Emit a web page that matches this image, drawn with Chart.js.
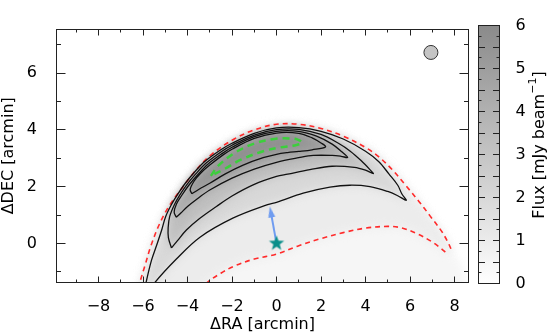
<!DOCTYPE html>
<html>
<head>
<meta charset="utf-8">
<script src="https://cdn.jsdelivr.net/npm/chart.js@4.4.1/dist/chart.umd.min.js"></script>
<style>
  body { margin: 0; background: #fff; }
  #wrap { position: relative; width: 552px; height: 335px; }
  canvas { position: absolute; left: 0; top: 0; }
</style>
</head>
<body>
<div id="wrap">
  <canvas id="map" width="552" height="335"></canvas>
  <canvas id="cbar" width="552" height="335"></canvas>
</div>
<script>
// Axis ranges (arcmin) and colour scale (mJy/beam)
const raMin = -9.888, raMax = 8.629;
const decMin = -1.378, decMax = 7.553;
const fluxMin = 0, fluxMax = 6;

const raTicks = [-8, -6, -4, -2, 0, 2, 4, 6, 8];
const raMinorTicks = [-9, -7, -5, -3, -1, 1, 3, 5, 7];
const decTicks = [0, 2, 4, 6];
const decMinorTicks = [-1, 1, 3, 5, 7];
const fluxTicks = [0, 1, 2, 3, 4, 5, 6];
const fluxHalfTicks = [0.5, 1, 1.5, 2, 2.5, 3, 3.5, 4, 4.5, 5, 5.5];
const fluxQuarterTicks = [0.25, 0.75, 1.25, 1.75, 2.25, 2.75, 3.25, 3.75, 4.25, 4.75, 5.25, 5.75];

// Colour bar end colours
const fluxColors = [[0, [255, 255, 255]], [6, [138, 138, 138]]];

// Red dashed curves (outer and inner edge)
const outerRed = [[-6.3,-1.9],[-6.15,-1.4],[-5.9,-0.75],[-5.65,-0.1],[-5.25,0.7],[-4.8,1.35],[-4.2,2.0],[-3.6,2.6],
  [-2.9,3.15],[-1.9,3.68],[-1.0,4.0],[0,4.2],[1,4.2],[2,4.05],[3,3.78],[4,3.38],[4.6,3.05],[5.2,2.6],
  [5.8,2.05],[6.4,1.48],[6.9,0.97],[7.4,0.45],[7.7,0.05],[7.9,-0.3]];
const innerRed = [[-3.7,-1.9],[-3.15,-1.4],[-2.5,-1.05],[-1.9,-0.8],[-1,-0.55],[0,-0.38],[1,-0.08],[2,0.17],[3,0.38],
  [4,0.54],[5,0.6],[5.6,0.55],[6.3,0.35],[7,0.05],[7.4,-0.18],[7.65,-0.35]];
const haloTail = [[8.35,-0.8],[8.4,-2.2],[-6.4,-2.2]];

// Black flux contours, lowest level first
const contour1 = [[-6.0,-1.9],[-5.87,-1.4],[-5.62,-0.6],[-5.38,-0.05],[-5.15,0.5],[-4.98,0.95],[-4.7,1.4],[-4.45,1.72],
  [-4.1,2.12],[-3.7,2.5],[-3.2,2.9],[-2.5,3.3],[-2,3.53],[-1,3.88],[0,4.07],[1,4.08],[2,3.95],[3,3.68],
  [4,3.25],[4.6,2.88],[5.05,2.45],[5.45,2.05],[5.63,1.75],[5.83,1.52],[5.45,1.68],[5.0,1.83],[4.2,2.0],
  [3.3,2.05],[2.4,1.98],[1.2,1.77],[0,1.45],[-0.4,1.37],[-1.94,0.9],[-3.44,0.22],[-4.5,-0.55],[-5.49,-1.4],[-5.9,-1.9]];
const contour2 = [[-4.72,-0.16],[-4.86,0.2],[-4.87,0.55],[-4.8,0.95],[-4.58,1.38],[-4.35,1.7],[-4.02,2.08],[-3.63,2.45],
  [-3.15,2.84],[-2.45,3.25],[-2,3.46],[-1,3.82],[0,4.01],[1,4.02],[2,3.84],[2.8,3.52],[3.3,3.26],[3.8,2.92],
  [4.2,2.6],[4.35,2.46],[4.0,2.58],[3.5,2.68],[2.5,2.72],[1.5,2.6],[0.5,2.44],[0,2.36],[-1,2.08],[-2,1.67],
  [-2.7,1.3],[-3.5,0.85],[-4.05,0.47],[-4.45,0.1],[-4.72,-0.16]];
const contour3 = [[-4.5,0.92],[-4.6,1.1],[-4.5,1.38],[-4.27,1.68],[-3.95,2.04],[-3.56,2.4],[-3.1,2.78],[-2.4,3.19],
  [-2,3.39],[-1,3.76],[0,3.95],[1,3.95],[1.8,3.78],[2.5,3.5],[2.95,3.22],[3.2,3.03],[2.9,3.07],[2.5,3.1],
  [1.65,3.1],[1,3.02],[0,2.86],[-1,2.62],[-2,2.3],[-3,1.88],[-3.6,1.55],[-4.0,1.3],[-4.3,1.07],[-4.5,0.92]];
const contour4 = [[-3.8,1.75],[-3.88,1.9],[-3.7,2.2],[-3.4,2.48],[-3.0,2.76],[-2.4,3.12],[-2,3.32],[-1,3.7],[0,3.89],
  [1,3.88],[1.6,3.72],[2.0,3.54],[2.2,3.4],[1.6,3.3],[1,3.24],[0.5,3.2],[0,3.14],[-0.6,3.02],[-1.5,2.76],
  [-2.3,2.45],[-3.0,2.12],[-3.5,1.9],[-3.8,1.75]];
// Green dashed contour
const greenContour = [[-2.95,2.38],[-2.6,2.75],[-1.9,3.18],[-1,3.52],[-0.1,3.68],[0.6,3.7],[0.95,3.66],[1.15,3.55],
  [0.9,3.47],[0.16,3.38],[-0.6,3.25],[-1.6,2.95],[-2.3,2.64],[-2.95,2.38]];

// Flux level used to shade each region
const haloFlux = 0.45, bandFlux = 1.0, level1Flux = 2.0, level2Flux = 3.3, level3Flux = 4.4, level4Flux = 5.3, coreFlux = 5.8;

// Markers
const sourcePos = [0, 0];
const arrowTip = [-0.3, 1.3];
const beamPos = [6.94, 6.73];

const FONT = '"DejaVu Sans", Verdana, sans-serif';
const pts = arr => arr.map(([x, y]) => ({x, y}));
const minus = v => v < 0 ? '\u2212' + Math.abs(v) : String(v);

function fluxGray(v) {
  const t = (v - fluxColors[0][0]) / (fluxColors[1][0] - fluxColors[0][0]);
  const c = fluxColors[0][1].map((a, i) => Math.round(a + (fluxColors[1][1][i] - a) * t));
  return 'rgb(' + c.join(',') + ')';
}

Chart.defaults.font.family = FONT;
Chart.defaults.font.size = 16;
Chart.defaults.color = '#000';

// Filled 5-point star for the source position
function starImage(r, color) {
  const c = document.createElement('canvas');
  c.width = c.height = 2 * r + 2;
  const g = c.getContext('2d');
  g.beginPath();
  for (let i = 0; i < 10; i++) {
    const rad = i % 2 ? r * 0.42 : r;
    const a = -Math.PI / 2 + i * Math.PI / 5;
    g.lineTo(r + 1 + rad * Math.cos(a), r + 1 + rad * Math.sin(a));
  }
  g.closePath();
  g.fillStyle = color;
  g.fill();
  return c;
}

// Arrow head with its tip at the image centre
function headImage(len, wid, color) {
  const c = document.createElement('canvas');
  c.width = 2 * len; c.height = 2 * len;
  const g = c.getContext('2d');
  g.beginPath();
  g.moveTo(len, len);
  g.lineTo(len - wid / 2, 2 * len);
  g.lineTo(len + wid / 2, 2 * len);
  g.closePath();
  g.fillStyle = color;
  g.fill();
  return c;
}

// Blur the filled image layers (the filler draws them in beforeDraw)
const softImage = {
  id: 'softImage',
  beforeRender(chart) { chart.ctx.filter = 'blur(4px)'; },
  beforeDraw(chart) { chart.ctx.filter = 'none'; }
};

// Inward tick marks on every side plus frame
function innerTicks(sets, frame) {
  return {
    id: 'innerTicks',
    afterDatasetsDraw(chart) {
      const {ctx, chartArea: a} = chart;
      const L = Math.floor(a.left) + 0.5, R = Math.floor(a.right) + 0.5;
      const T = Math.floor(a.top) + 0.5, B = Math.floor(a.bottom) + 0.5;
      ctx.save();
      ctx.strokeStyle = '#222';
      ctx.lineWidth = 1;
      ctx.beginPath();
      sets.forEach(set => {
        const scale = chart.scales[set.scale];
        set.values.forEach(v => {
          const p = Math.floor(scale.getPixelForValue(v)) + 0.5;
          if (scale.isHorizontal()) {
            ctx.moveTo(p, B); ctx.lineTo(p, B - set.len);
            ctx.moveTo(p, T); ctx.lineTo(p, T + set.len);
          } else {
            ctx.moveTo(L, p); ctx.lineTo(L + set.len, p);
            ctx.moveTo(R, p); ctx.lineTo(R - set.len, p);
          }
        });
      });
      ctx.stroke();
      if (frame) ctx.strokeRect(L, T, R - L, B - T);
      ctx.restore();
    }
  };
}

// Colour bar label, reading upwards, with a superscript
function cbTitle(x, y, text, sup, tail) {
  return {
    id: 'cbTitle',
    afterDraw(chart) {
      const ctx = chart.ctx;
      const font = '16px ' + FONT;
      const supFont = '11px ' + FONT;
      ctx.save();
      ctx.translate(x, y);
      ctx.rotate(-Math.PI / 2);
      ctx.fillStyle = '#000';
      ctx.textBaseline = 'middle';
      ctx.font = font;
      const w1 = ctx.measureText(text).width, w3 = ctx.measureText(tail).width;
      ctx.font = supFont;
      const w2 = ctx.measureText(sup).width;
      let px = -(w1 + w2 + w3) / 2;
      ctx.font = font; ctx.fillText(text, px, 0); px += w1;
      ctx.font = supFont; ctx.fillText(sup, px, -6); px += w2;
      ctx.font = font; ctx.fillText(tail, px, 0);
      ctx.restore();
    }
  };
}

function fillSet(data, flux, order) {
  return {data: pts(data), fill: 'shape', backgroundColor: fluxGray(flux), borderColor: 'transparent',
    borderWidth: 0, pointRadius: 0, tension: 0.3, order: order};
}
function contourSet(data, color, width, dash, order) {
  return {data: pts(data), fill: false, borderColor: color, borderWidth: width, borderDash: dash,
    pointRadius: 0, tension: 0.35, order: order};
}

const arrowDir = ctx => {
  const xs = ctx.chart.scales.x, ys = ctx.chart.scales.y;
  const dx = xs.getPixelForValue(arrowTip[0]) - xs.getPixelForValue(sourcePos[0]);
  const dy = ys.getPixelForValue(arrowTip[1]) - ys.getPixelForValue(sourcePos[1]);
  return Math.atan2(dx, -dy) * 180 / Math.PI;
};
const shaftEnd = [sourcePos[0] + 0.8 * (arrowTip[0] - sourcePos[0]), sourcePos[1] + 0.8 * (arrowTip[1] - sourcePos[1])];

new Chart(document.getElementById('map'), {
  type: 'line',
  data: {
    datasets: [
      fillSet(outerRed.concat(haloTail), haloFlux, 20),
      fillSet(outerRed.concat(innerRed.slice().reverse()), bandFlux, 19),
      fillSet(contour1, level1Flux, 18),
      fillSet(contour2, level2Flux, 17),
      fillSet(contour3, level3Flux, 16),
      fillSet(contour4, level4Flux, 15),
      fillSet(greenContour, coreFlux, 14),
      contourSet(outerRed, '#ff2b2b', 1.6, [5, 4], 6),
      contourSet(innerRed, '#ff2b2b', 1.6, [5, 4], 6),
      contourSet(contour1, '#111', 1.3, [], 5),
      contourSet(contour2, '#111', 1.3, [], 5),
      contourSet(contour3, '#111', 1.3, [], 5),
      contourSet(contour4, '#111', 1.3, [], 5),
      contourSet(greenContour, '#3ccf3c', 2.5, [7, 5], 4),
      {data: pts([sourcePos, shaftEnd]), borderColor: '#6f9cf0', borderWidth: 2, pointRadius: 0, order: 3},
      {data: pts([arrowTip]), showLine: false, pointStyle: headImage(11, 7, '#6f9cf0'), pointRadius: 6,
        pointRotation: arrowDir, order: 2},
      {data: pts([sourcePos]), showLine: false, pointStyle: starImage(8, '#0a8f8a'), pointRadius: 8, order: 1},
      {data: pts([beamPos]), showLine: false, pointStyle: 'circle', pointRadius: 7, pointBackgroundColor: '#c4c4c4',
        pointBorderColor: '#333', pointBorderWidth: 1, order: 0}
    ]
  },
  options: {
    responsive: false,
    animation: false,
    events: [],
    layout: {padding: {left: 0, top: 7, right: 83.5, bottom: 0}},
    plugins: {
      legend: {display: false},
      tooltip: {enabled: false},
      filler: {drawTime: 'beforeDraw', propagate: false}
    },
    scales: {
      x: {
        type: 'linear', min: raMin, max: raMax,
        grid: {display: false, drawTicks: false}, border: {display: false},
        afterBuildTicks: s => { s.ticks = raTicks.map(v => ({value: v})); },
        ticks: {padding: 14.8, callback: minus, maxRotation: 0, autoSkip: false},
        title: {display: true, text: '\u0394RA [arcmin]', padding: {top: 0, bottom: 0.5}},
        afterFit: s => { s.height = 52.5; }
      },
      y: {
        type: 'linear', min: decMin, max: decMax,
        grid: {display: false, drawTicks: false}, border: {display: false},
        afterBuildTicks: s => { s.ticks = decTicks.map(v => ({value: v})); },
        ticks: {padding: 19.5, callback: minus, autoSkip: false},
        title: {display: true, text: '\u0394DEC [arcmin]', padding: {top: -1, bottom: 0}},
        afterFit: s => { s.width = 56.5; }
      }
    }
  },
  plugins: [softImage, innerTicks([
    {scale: 'x', values: raTicks, len: 6},
    {scale: 'x', values: raMinorTicks, len: 3},
    {scale: 'y', values: decTicks, len: 9},
    {scale: 'y', values: decMinorTicks, len: 4.5}
  ], true)]
});

new Chart(document.getElementById('cbar'), {
  type: 'bar',
  data: {
    labels: ['flux'],
    datasets: [{
      data: [fluxMax],
      backgroundColor: ctx => {
        const a = ctx.chart.chartArea;
        if (!a) return fluxGray(fluxMax / 2);
        const g = ctx.chart.ctx.createLinearGradient(0, a.bottom, 0, a.top);
        fluxColors.forEach(([v]) => g.addColorStop((v - fluxMin) / (fluxMax - fluxMin), fluxGray(v)));
        return g;
      },
      borderWidth: 0,
      barPercentage: 1, categoryPercentage: 1
    }]
  },
  options: {
    responsive: false,
    animation: false,
    events: [],
    layout: {padding: {left: 478.5, top: 7, right: 0, bottom: 51.5}},
    plugins: {
      legend: {display: false},
      tooltip: {enabled: false}
    },
    scales: {
      x: {display: false},
      y: {
        position: 'right', min: fluxMin, max: fluxMax,
        grid: {display: false, drawTicks: false}, border: {display: false},
        afterBuildTicks: s => { s.ticks = fluxTicks.map(v => ({value: v})); },
        ticks: {padding: 16, autoSkip: false},
        afterFit: s => { s.width = 52.5; }
      }
    }
  },
  plugins: [
    innerTicks([
      {scale: 'y', values: fluxHalfTicks, len: 6.5},
      {scale: 'y', values: fluxQuarterTicks, len: 3}
    ], true),
    cbTitle(539.5, 145, 'Flux [mJy beam', '\u22121', ']')
  ]
});
</script>
</body>
</html>
